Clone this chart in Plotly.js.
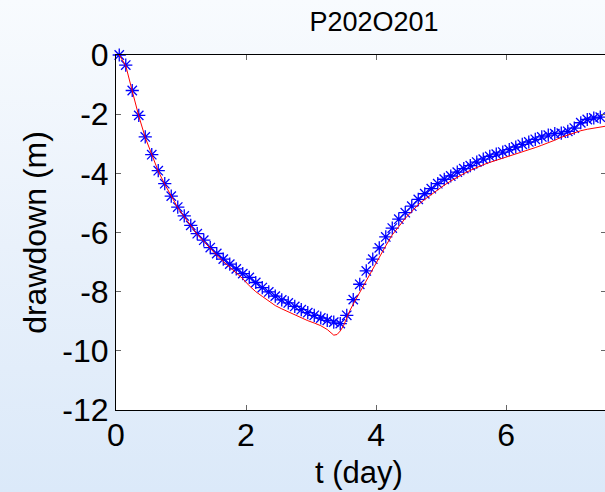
<!DOCTYPE html>
<html>
<head>
<meta charset="utf-8">
<script src="https://cdn.plot.ly/plotly-3.0.1.min.js"></script>
<style>
html, body { margin: 0; padding: 0; width: 605px; height: 492px; overflow: hidden;
  background: linear-gradient(to bottom, #f8fbfe 0%, #e9f1fb 50%, #dbe9f9 100%); }
#chart { width: 606px; height: 492px; }
</style>
</head>
<body>
<div id="chart"></div>
<script>
// observed drawdown (blue asterisks)
const obsT = [0.05,0.15,0.25,0.35,0.45,0.55,0.65,0.75,0.85,0.95,
  1.05,1.15,1.25,1.35,1.45,1.55,1.65,1.75,1.85,1.95,
  2.05,2.15,2.25,2.35,2.45,2.55,2.65,2.75,2.85,2.95,
  3.05,3.15,3.25,3.35,3.45,3.55,3.65,3.75,3.85,3.95,
  4.05,4.15,4.25,4.35,4.45,4.55,4.65,4.75,4.85,4.95,
  5.05,5.15,5.25,5.35,5.45,5.55,5.65,5.75,5.85,5.95,
  6.05,6.15,6.25,6.35,6.45,6.55,6.65,6.75,6.85,6.95,
  7.05,7.15,7.25,7.35,7.45,7.55];
const obsS = [0.00,-0.34,-1.20,-2.04,-2.77,-3.37,-3.91,-4.35,-4.77,-5.14,
  -5.44,-5.76,-6.04,-6.26,-6.51,-6.71,-6.90,-7.07,-7.23,-7.39,
  -7.52,-7.69,-7.86,-8.01,-8.15,-8.28,-8.38,-8.50,-8.61,-8.71,
  -8.80,-8.89,-8.97,-9.03,-9.08,-8.80,-8.27,-7.75,-7.30,-6.90,
  -6.52,-6.15,-5.85,-5.55,-5.33,-5.11,-4.88,-4.69,-4.52,-4.35,
  -4.20,-4.09,-3.96,-3.84,-3.74,-3.62,-3.52,-3.43,-3.35,-3.28,
  -3.20,-3.11,-3.02,-2.94,-2.85,-2.77,-2.71,-2.66,-2.64,-2.58,
  -2.47,-2.29,-2.18,-2.13,-2.10,-2.05];

// simulated drawdown (red line)
const simT = [0.05,0.15,0.25,0.35,0.45,0.55,0.65,0.75,0.85,0.95,
  1.05,1.15,1.25,1.35,1.45,1.55,1.65,1.75,1.85,1.95,
  2.05,2.15,2.25,2.35,2.45,2.55,2.65,2.75,2.85,2.95,
  3.05,3.15,3.25,3.30,3.35,3.40,3.45,3.50,3.55,3.60,
  3.65,3.75,3.85,3.95,4.05,4.15,4.25,4.35,4.45,4.55,
  4.65,4.75,4.85,4.95,5.05,5.15,5.25,5.35,5.45,5.55,
  5.65,5.75,5.85,5.95,6.05,6.15,6.25,6.35,6.45,6.55,
  6.65,6.75,6.85,6.95,7.05,7.15,7.25,7.35,7.45,7.55];
const simS = [0.00,-0.36,-1.22,-2.06,-2.79,-3.39,-3.93,-4.37,-4.79,-5.16,
  -5.47,-5.79,-6.07,-6.30,-6.55,-6.77,-6.98,-7.17,-7.36,-7.56,
  -7.80,-8.00,-8.16,-8.32,-8.47,-8.58,-8.68,-8.78,-8.89,-8.98,
  -9.06,-9.15,-9.28,-9.39,-9.47,-9.45,-9.33,-9.15,-8.88,-8.63,
  -8.42,-8.02,-7.62,-7.25,-6.82,-6.45,-6.08,-5.78,-5.52,-5.29,
  -5.06,-4.88,-4.71,-4.55,-4.40,-4.26,-4.13,-4.01,-3.90,-3.80,
  -3.71,-3.63,-3.56,-3.49,-3.43,-3.36,-3.29,-3.21,-3.13,-3.05,
  -2.97,-2.88,-2.78,-2.70,-2.62,-2.56,-2.51,-2.47,-2.43,-2.40];

const xTickVals = [0, 2, 4, 6];
const xTickText = ['0', '2', '4', '6'];
const yTickVals = [0, -2, -4, -6, -8, -10, -12];
const yTickText = ['0', '-2', '-4', '-6', '-8', '-10', '-12'];

const FONT = 'Liberation Sans, Arial, Helvetica, sans-serif';

const traces = [
  {
    x: obsT, y: obsS, type: 'scatter', mode: 'markers', name: 'observed',
    marker: { symbol: 'asterisk-open', size: 11, color: '#0000ff', line: { width: 1.3, color: '#0000ff' } },
    cliponaxis: false
  },
  {
    x: simT, y: simS, type: 'scatter', mode: 'lines', name: 'simulated',
    line: { color: '#ff0000', width: 1 }
  }
];

const layout = {
  width: 606, height: 492,
  margin: { l: 116, r: 0, t: 55, b: 82, pad: 0 },
  paper_bgcolor: 'rgba(0,0,0,0)',
  plot_bgcolor: '#ffffff',
  showlegend: false,
  font: { family: FONT, color: '#000000', size: 32 },
  title: { text: 'P202O201', font: { family: FONT, size: 27, color: '#000' },
           x: 0.5265, xref: 'paper', xanchor: 'center', y: 0.938, yref: 'container', yanchor: 'bottom' },
  xaxis: {
    range: [0, 7.538], tickmode: 'array', tickvals: xTickVals, ticktext: xTickText,
    showline: true, linecolor: '#000', linewidth: 1, mirror: 'ticks',
    ticks: 'inside', ticklen: 5, tickcolor: '#666', tickwidth: 1,
    ticklabelstandoff: -3,
    showgrid: false, zeroline: false,
    tickfont: { family: FONT, size: 32, color: '#000' }
  },
  yaxis: {
    range: [-12, 0], tickmode: 'array', tickvals: yTickVals, ticktext: yTickText,
    showline: true, linecolor: '#000', linewidth: 1, mirror: 'ticks',
    ticks: 'inside', ticklen: 5, tickcolor: '#666', tickwidth: 1,
    showgrid: false, zeroline: false,
    tickfont: { family: FONT, size: 32, color: '#000' },
    title: { text: 'drawdown (m)', font: { family: FONT, size: 32, color: '#000' }, standoff: 6 }
  },
  annotations: [
    { text: 't (day)', xref: 'paper', yref: 'paper', x: 0.496, y: -0.175,
      xanchor: 'center', yanchor: 'middle', showarrow: false,
      font: { family: FONT, size: 31, color: '#000' } }
  ]
};

Plotly.newPlot('chart', traces, layout, { displayModeBar: false, staticPlot: true });
</script>
</body>
</html>
